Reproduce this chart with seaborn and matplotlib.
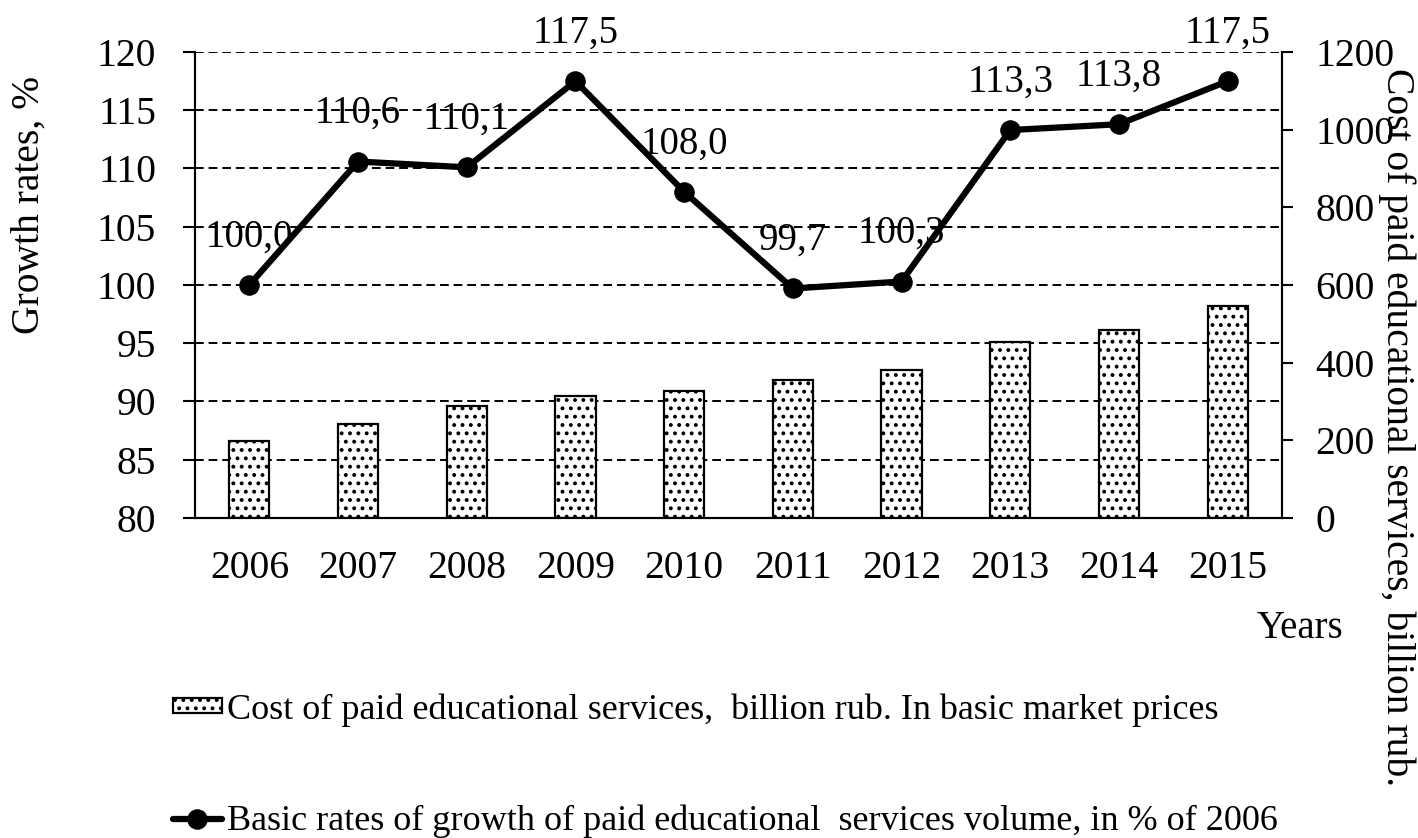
import numpy as np
import pandas as pd
import matplotlib
matplotlib.use("Agg")
import matplotlib.pyplot as plt
import seaborn as sns

# data
years = ["2006", "2007", "2008", "2009", "2010", "2011", "2012", "2013", "2014", "2015"]
cost_bln_rub = [197, 243, 289, 315, 328, 356, 381, 452, 484, 545]
growth_pct = [100.0, 110.6, 110.1, 117.5, 108.0, 99.7, 100.3, 113.3, 113.8, 117.5]

left_ticks = [80, 85, 90, 95, 100, 105, 110, 115, 120]
right_ticks = [0, 200, 400, 600, 800, 1000, 1200]

bar_label = "Cost of paid educational services,  billion rub. In basic market prices"
line_label = "Basic rates of growth of paid educational  services volume, in % of 2006"

sns.set_theme(style="white", rc={
    "axes.edgecolor": "black",
    "text.color": "black",
    "xtick.color": "black",
    "ytick.color": "black",
    "axes.labelcolor": "black",
    "hatch.linewidth": 1.6,
})
plt.rcParams["font.family"] = ["Liberation Serif", "DejaVu Serif"]

df = pd.DataFrame({"year": years, "cost": cost_bln_rub, "growth": growth_pct})

W, H = 1418, 838
TICK_FS = 28.5
fig = plt.figure(figsize=(W / 100, H / 100), dpi=100)
ax = fig.add_axes([195 / W, 1 - 518 / H, (1282 - 195) / W, (518 - 52) / H])
ax2 = ax.twinx()

# bars on the secondary (right) axis
sns.barplot(data=df, x="year", y="cost", ax=ax2, color="white", saturation=1,
            edgecolor="black", linewidth=1.6, width=0.37, label=bar_label)
for p in ax2.patches:
    p.set_hatch("..")

# growth line on the primary (left) axis
sns.lineplot(data=df, x="year", y="growth", ax=ax, color="black", linewidth=4.5,
             marker="o", markersize=14, markeredgecolor="black", sort=False,
             label=line_label)

for i, v in enumerate(growth_pct):
    ax.annotate(f"{v:.1f}".replace(".", ","), (i, v), xytext=(0, 34.5),
                textcoords="offset points", ha="center", va="center",
                fontsize=28, annotation_clip=False)

ax.set_ylim(80, 120)
ax.set_yticks(left_ticks)
ax2.set_ylim(0, 1200)
ax2.set_yticks(right_ticks)
ax.set_xlim(-0.5, len(years) - 0.5)

ax.yaxis.grid(True, color="black", linestyle=(0, (4.5, 2.5)), linewidth=1.4)
ax.xaxis.grid(False)
ax2.grid(False)

# x ticks between categories, labels under the categories
ax.set_xticks(np.arange(len(years) + 1) - 0.5, labels=[""] * (len(years) + 1))
ax.set_xticks(np.arange(len(years)), labels=years, minor=True)
ax.tick_params(axis="x", which="major", direction="out", length=7, width=1.5)
ax.tick_params(axis="x", which="minor", length=0, pad=23, labelsize=TICK_FS)
ax.tick_params(axis="y", direction="out", length=9, width=1.5, pad=19, labelsize=TICK_FS)
ax2.tick_params(axis="y", direction="out", length=8, width=1.5, pad=16, labelsize=TICK_FS)

for a in (ax, ax2):
    a.spines["top"].set_visible(False)
    for s in ("left", "right", "bottom"):
        a.spines[s].set_linewidth(1.5)
ax.set_xlabel("")
ax.set_ylabel("")
ax2.set_ylabel("")

for a in (ax, ax2):
    if a.get_legend() is not None:
        a.get_legend().remove()

fig.text(29 / W, 1 - 205 / H, "Growth rates, %", rotation=90,
         ha="center", va="center", fontsize=28.5)
fig.text(1397 / W, 1 - 427 / H, "Cost of paid educational services, billion rub.",
         rotation=270, ha="center", va="center", fontsize=28.5)
fig.text(1300 / W, 1 - 628 / H, "Years", ha="center", va="center", fontsize=28)

h1, l1 = ax2.get_legend_handles_labels()
h2, l2 = ax.get_legend_handles_labels()
fig.legend(h1 + h2, l1 + l2, loc="upper left", bbox_to_anchor=(173 / W, 1 - 693 / H),
           frameon=False, fontsize=26, handlelength=1.35, handleheight=0.3,
           handletextpad=0.15, labelspacing=2.15, borderpad=0, borderaxespad=0)

fig.savefig("out.png", dpi=100)
